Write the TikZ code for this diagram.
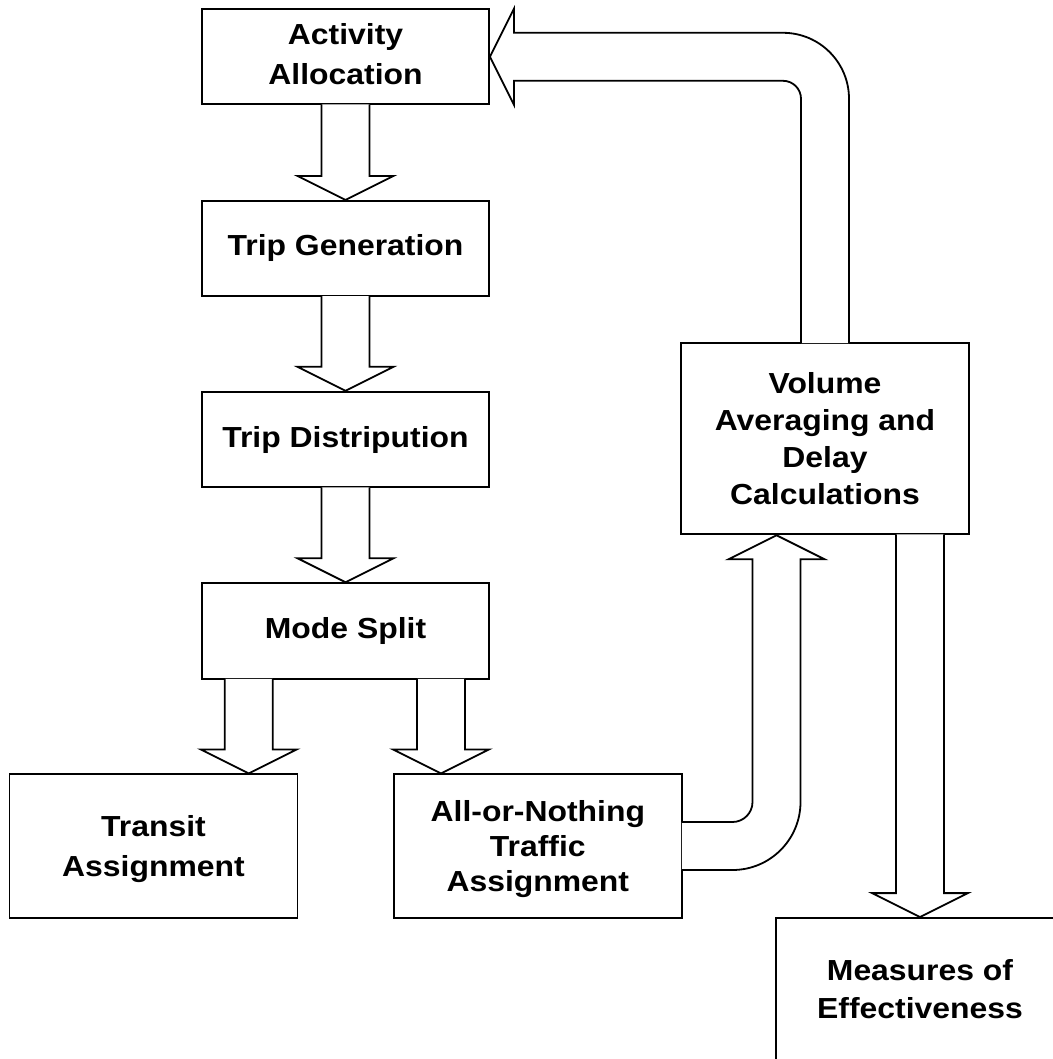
\documentclass[tikz,border=0pt]{standalone}
\usepackage{fontspec}
\setmainfont[FakeStretch=1.1]{Liberation Sans}
\usetikzlibrary{calc}
\tikzset{
  box/.style={draw, fill=white, line width=1.8pt, line join=miter, line cap=rect, rectangle,
    inner sep=0pt, align=center, font=\bfseries\fontsize{29}{37}\selectfont},
  blk/.style={draw, fill=white, line width=1.8pt, line join=miter},
}
\newcommand\blkdown[3]{%
  \draw[blk] let \p1=(#1), \p2=(#2) in
    ({#3pt-24pt},{\y1+0.9pt}) -- ({#3pt-24pt},{\y2+24pt}) -- ({#3pt-48pt},{\y2+24pt})
    -- ({#3pt},{\y2}) -- ({#3pt+48pt},{\y2+24pt}) -- ({#3pt+24pt},{\y2+24pt})
    -- ({#3pt+24pt},{\y1+0.9pt});}
\begin{document}
\begin{tikzpicture}[x=1pt,y=-1pt]
\useasboundingbox (0,0) rectangle (1052,1059);
% boxes
\node[box, minimum width=287pt, minimum height=95pt] (act) at (345.5,56.8)
  {Activity\\[3pt]Allocation\rule[-5pt]{0pt}{0pt}};
\node[box, minimum width=287pt, minimum height=95.3pt] (gen) at (345.5,248.5) {Trip Generation};
\node[box, minimum width=287pt, minimum height=95.6pt] (dist) at (345.5,439.5) {Trip Distripution};
\node[box, minimum width=287pt, minimum height=95.7pt] (ms) at (345.5,631) {Mode Split};
\node[box, minimum width=288pt, minimum height=143.4pt] (tr) at (153.5,846)
  {\rule{0pt}{28pt}Transit\\[3pt]Assignment};
\node[box, minimum width=288pt, minimum height=143.4pt] (aon) at (537.8,846)
  {\rule{0pt}{28pt}All-or-Nothing\\[-2pt]Traffic\\[-2pt]Assignment};
\node[box, minimum width=288pt, minimum height=191.3pt] (vol) at (825,438.7)
  {Volume\\Averaging and\\Delay\\Calculations};
\node[box, minimum width=288pt, minimum height=142pt] (moe) at (920,989)
  {Measures of\\[1pt]Effectiveness};
% straight block arrows
\blkdown{act.south}{gen.north}{345.5}
\blkdown{gen.south}{dist.north}{345.5}
\blkdown{dist.south}{ms.north}{345.5}
\blkdown{ms.south}{tr.north}{248.8}
\blkdown{ms.south}{aon.north}{441}
\blkdown{vol.south}{moe.north}{920}
% feedback arrow: volume -> activity allocation
\draw[blk] let \p1=(vol.north), \p2=(act.east) in
  ({\x1-24pt},{\y1-0.9pt}) -- ({\x1-24pt},{\y2-42pt})
  arc[start angle=0, end angle=90, radius=18pt]
  -- ({\x2+24pt},{\y2-24pt}) -- ({\x2+24pt},{\y2-48pt}) -- (\x2,\y2)
  -- ({\x2+24pt},{\y2+48pt}) -- ({\x2+24pt},{\y2+24pt}) -- ({\x1-42pt},{\y2+24pt})
  arc[start angle=90, end angle=0, radius=66pt]
  -- ({\x1+24pt},{\y1-0.9pt});
% all-or-nothing -> volume averaging
\draw[blk] let \p1=(aon.east), \p2=(vol.south) in
  ({\x1-0.9pt},{\y1+24pt}) -- (732.5pt,{\y1+24pt})
  arc[start angle=-90, end angle=0, radius=20pt]
  -- (752.5pt,{\y2-24pt}) -- (728.5pt,{\y2-24pt}) -- (776.5pt,\y2)
  -- (824.5pt,{\y2-24pt}) -- (800.5pt,{\y2-24pt}) -- (800.5pt,{\y1+44pt})
  arc[start angle=0, end angle=-90, radius=68pt]
  -- ({\x1-0.9pt},{\y1-24pt});
\end{tikzpicture}
\end{document}
